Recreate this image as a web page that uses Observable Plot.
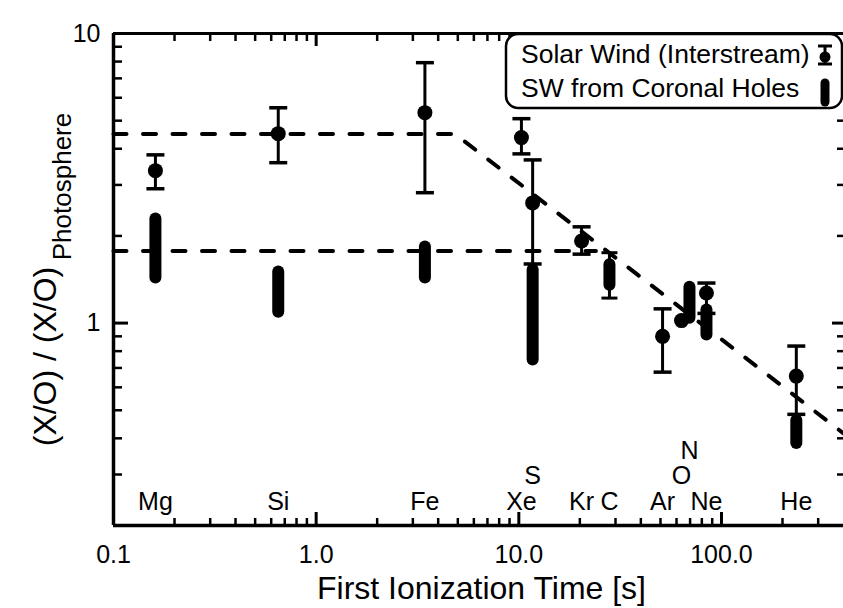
<!DOCTYPE html>
<html><head><meta charset="utf-8">
<script src="https://cdn.jsdelivr.net/npm/d3@7"></script>
<script src="https://cdn.jsdelivr.net/npm/@observablehq/plot@0.6"></script>
<style>
html,body{margin:0;padding:0;background:#fff;overflow:hidden}
#wrap{position:relative;width:843px;height:608px;font-family:"Liberation Sans",Arial,sans-serif}
#wrap svg{display:block}
#legend{position:absolute;left:0;top:0}
</style>
</head><body><div id="wrap"></div>
<script>
// ---- data ----
const xDomain = [0.1, 400];
const yDomain = [0.2, 10];
const xMajor = [0.1, 1, 10, 100];
const xMajorLabels = ["0.1", "1.0", "10.0", "100.0"];
const xMinor = [0.2,0.3,0.4,0.5,0.6,0.7,0.8,0.9,2,3,4,5,6,7,8,9,20,30,40,50,60,70,80,90,200,300];
const yMajor = [1, 10];
const yMajorLabels = ["1", "10"];
const yMinor = [0.2,0.3,0.4,0.5,0.6,0.7,0.8,0.9,2,3,4,5,6,7,8,9];

// element first ionization times and label rows
const elements = ["Mg","Si","Fe","Xe","S","Kr","C","Ar","O","N","Ne","He"];
const fitTime  = [0.161,0.65,3.44,10.3,11.7,20.4,28.0,51.2,63.5,69.5,84.3,234];
const labelRow = [0,0,0,0,1,0,0,0,1,2,0,0];

// Solar Wind (Interstream)
const swNames = ["Mg","Si","Fe","Xe","S","Kr","Ar","O","Ne","He"];
const swValue = [3.36,4.51,5.33,4.37,2.60,1.92,0.90,1.02,1.27,0.656];
const swLow   = [2.91,3.58,2.82,3.84,1.60,1.73,0.677,null,1.08,0.484];
const swHigh  = [3.81,5.54,7.93,5.08,3.66,2.15,1.12,null,1.375,0.833];

// SW from Coronal Holes (ranges)
const chNames = ["Mg","Si","Fe","S","C","N","Ne","He"];
const chLow   = [1.43,1.09,1.43,0.745,1.35,1.04,0.91,0.384];
const chHigh  = [2.29,1.50,1.83,1.525,1.59,1.33,1.11,0.461];
const chErrLow  = [null,null,null,null,1.22,null,null,null];
const chErrHigh = [null,null,null,null,1.75,null,null,null];

// dashed model lines
const upperFitX = [0.1, 4.84, 400];
const upperFitY = [4.5, 4.5, 0.416];
const lowerFitX = [0.1, 24];
const lowerFitY = [1.775, 1.775];

// ---- tables ----
const fitOf = Object.fromEntries(elements.map((e,i)=>[e, fitTime[i]]));
const labels = elements.map((e,i)=>({name:e, x:fitTime[i], row:labelRow[i]}));
const sw = swNames.map((e,i)=>({name:e, x:fitOf[e], y:swValue[i], lo:swLow[i], hi:swHigh[i]}));
const swErr = sw.filter(d=>d.lo!=null);
const ch = chNames.map((e,i)=>({name:e, x:fitOf[e], lo:chLow[i], hi:chHigh[i], elo:chErrLow[i], ehi:chErrHigh[i]}));
const chErr = ch.filter(d=>d.elo!=null);
const upper = upperFitX.map((x,i)=>({x, y:upperFitY[i]}));
const lower = lowerFitX.map((x,i)=>({x, y:lowerFitY[i]}));

const cap = {draw(ctx, size){ const w = Math.sqrt(size/Math.PI); ctx.moveTo(-w,0); ctx.lineTo(w,0); }};
const font = '"Liberation Sans", Arial, sans-serif';

const capsLo = swErr.map(d=>({x:d.x, y:d.lo}));
const capsHi = swErr.map(d=>({x:d.x, y:d.hi}));
const chCaps = chErr.flatMap(d=>[{x:d.x,y:d.elo},{x:d.x,y:d.ehi}]);

const plot = Plot.plot({
  width: 843, height: 608,
  marginLeft: 113, marginRight: 0, marginTop: 33, marginBottom: 83,
  style: {fontFamily: font, color: "#000", background: "#fff", overflow: "visible"},
  x: {type: "log", domain: xDomain},
  y: {type: "log", domain: yDomain},
  marks: [
    // frame lines
    Plot.ruleY([yDomain[1]], {stroke: "#000", strokeWidth: 3}),
    Plot.ruleY([yDomain[0]], {stroke: "#000", strokeWidth: 3.5}),
    Plot.ruleX([xDomain[0]], {stroke: "#000", strokeWidth: 3.5}),
    // inward ticks
    Plot.axisX(xMajor, {anchor: "bottom", tickSize: -13, strokeWidth: 3, tickFormat: () => "", label: null}),
    Plot.axisX(xMinor, {anchor: "bottom", tickSize: -7, strokeWidth: 2.5, tickFormat: () => "", label: null}),
    Plot.axisX(xMajor, {anchor: "top", tickSize: -12, strokeWidth: 3, tickFormat: () => "", label: null}),
    Plot.axisX(xMinor, {anchor: "top", tickSize: -7, strokeWidth: 2.5, tickFormat: () => "", label: null}),
    Plot.axisY(yMajor, {anchor: "left", tickSize: -15, strokeWidth: 3, tickFormat: () => "", label: null}),
    Plot.axisY(yMinor, {anchor: "left", tickSize: -9, strokeWidth: 2.5, tickFormat: () => "", label: null}),
    Plot.axisY(yMajor, {anchor: "right", tickSize: -12, strokeWidth: 3, tickFormat: () => "", label: null}),
    Plot.axisY(yMinor, {anchor: "right", tickSize: -7, strokeWidth: 2.5, tickFormat: () => "", label: null}),
    // tick labels
    Plot.axisX(xMajor, {anchor: "bottom", tickSize: 0, tickPadding: 20, fontSize: 25,
      tickFormat: d => xMajorLabels[xMajor.indexOf(d)], label: null}),
    Plot.axisY(yMajor, {anchor: "left", tickSize: 0, tickPadding: 13, fontSize: 25,
      tickFormat: d => yMajorLabels[yMajor.indexOf(d)], label: null}),
    // dashed model lines
    Plot.line(upper, {x: "x", y: "y", stroke: "#000", strokeWidth: 4, strokeDasharray: "13,16.5"}),
    Plot.line(lower, {x: "x", y: "y", stroke: "#000", strokeWidth: 4, strokeDasharray: "13,16.5"}),
    // coronal hole pills
    Plot.ruleX(ch, {x: "x", y1: "lo", y2: "hi", stroke: "#000", strokeWidth: 12, strokeLinecap: "round"}),
    Plot.ruleX(chErr, {x: "x", y1: "elo", y2: "ehi", stroke: "#000", strokeWidth: 3}),
    Plot.dot(chCaps, {x: "x", y: "y", r: 8, symbol: cap, stroke: "#000", strokeWidth: 3, fill: "none"}),
    // interstream error bars
    Plot.ruleX(swErr, {x: "x", y1: "lo", y2: "hi", stroke: "#000", strokeWidth: 3}),
    Plot.dot(capsLo, {x: "x", y: "y", r: 9, symbol: cap, stroke: "#000", strokeWidth: 3.5, fill: "none"}),
    Plot.dot(capsHi, {x: "x", y: "y", r: 9, symbol: cap, stroke: "#000", strokeWidth: 3.5, fill: "none"}),
    Plot.dot(sw, {x: "x", y: "y", r: 7.5, fill: "#000", stroke: "none"}),
    // element labels
    Plot.text(labels.filter(d=>d.row===0), {x: "x", text: "name", frameAnchor: "bottom", dy: -24, fontSize: 25, fill: "#000", lineAnchor: "middle"}),
    Plot.text(labels.filter(d=>d.row===1), {x: "x", text: "name", frameAnchor: "bottom", dy: -50, fontSize: 25, fill: "#000", lineAnchor: "middle"}),
    Plot.text(labels.filter(d=>d.row===2), {x: "x", text: "name", frameAnchor: "bottom", dy: -75, fontSize: 25, fill: "#000", lineAnchor: "middle"}),
    // axis titles
    Plot.text(["First Ionization Time [s]"], {text: d => d, frameAnchor: "bottom", dx: 3, dy: 63, fontSize: 32, fill: "#000", lineAnchor: "middle"}),
    Plot.text(["(X/O) / (X/O)"], {text: d => d, frameAnchor: "left", rotate: -90, dx: -68, dy: 77, fontSize: 32, fill: "#000", lineAnchor: "middle", textAnchor: "middle"}),
    Plot.text(["Photosphere"], {text: d => d, frameAnchor: "left", rotate: -90, dx: -51, dy: -93, fontSize: 26, fill: "#000", lineAnchor: "middle", textAnchor: "middle"})
  ]
});

const wrap = document.getElementById("wrap");
wrap.appendChild(plot);

// legend overlay
const leg = d3.select(wrap).append("svg").attr("id","legend").attr("width",843).attr("height",120);
leg.append("rect").attr("x",506).attr("y",34).attr("width",336).attr("height",74).attr("rx",12)
  .attr("fill","#fff").attr("stroke","#000").attr("stroke-width",2.5);
const legendItems = ["Solar Wind (Interstream)", "SW from Coronal Holes"];
leg.selectAll("text").data(legendItems).join("text")
  .attr("x",521).attr("y",(d,i)=>63+i*34).attr("font-size",26.5).attr("font-family",font).text(d=>d);
const g = leg.append("g").attr("stroke","#000");
g.append("line").attr("x1",825).attr("x2",825).attr("y1",46).attr("y2",64).attr("stroke-width",3);
g.append("line").attr("x1",818).attr("x2",832).attr("y1",46).attr("y2",46).attr("stroke-width",3);
g.append("line").attr("x1",818).attr("x2",832).attr("y1",64).attr("y2",64).attr("stroke-width",3);
g.append("circle").attr("cx",825).attr("cy",57).attr("r",5.5).attr("fill","#000").attr("stroke","none");
g.append("line").attr("x1",825).attr("x2",825).attr("y1",83).attr("y2",102).attr("stroke-width",9).attr("stroke-linecap","round");
</script></body></html>
